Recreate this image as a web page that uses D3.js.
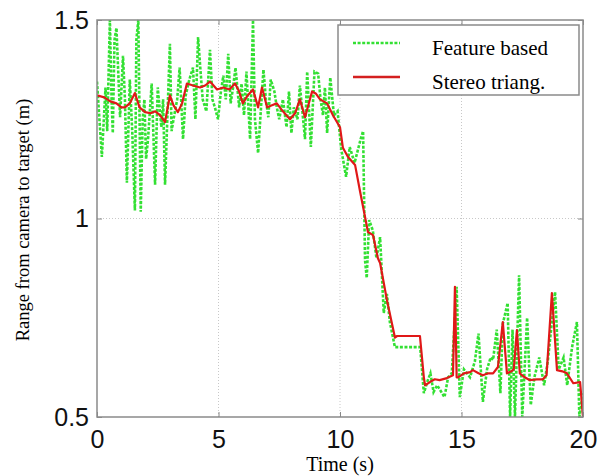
<!DOCTYPE html>
<html><head><meta charset="utf-8">
<script src="https://cdn.jsdelivr.net/npm/d3@7"></script>
<style>body{margin:0;background:#fff}</style>
</head><body>
<svg id="c" width="606" height="476"></svg>
<script>
// ---- data ----
const xTicks = [0, 5, 10, 15, 20];
const yTicks = [0.5, 1, 1.5];
const seriesNames = ["Feature based", "Stereo triang."];

const featureT = [0.0,0.2,0.35,0.42,0.53,0.6,0.65,0.72,0.8,0.95,1.07,1.15,1.23,1.35,1.45,1.56,1.62,1.7,1.8,1.88,1.95,2.02,2.1,2.25,2.39,2.5,2.65,2.72,2.8,3.0,3.07,3.15,3.3,3.4,3.54,3.65,3.8,3.95,4.05,4.16,4.25,4.35,4.5,4.65,4.75,4.85,4.98,5.1,5.2,5.3,5.4,5.5,5.6,5.7,5.85,5.95,6.05,6.15,6.3,6.42,6.5,6.63,6.85,6.95,7.05,7.15,7.3,7.4,7.5,7.65,7.8,7.9,8.0,8.1,8.25,8.35,8.56,8.65,8.8,8.95,9.1,9.2,9.3,9.38,9.47,9.6,9.75,9.9,10.05,10.25,10.4,10.6,10.85,10.95,11.03,11.1,11.2,11.35,11.5,11.65,11.8,11.93,12.05,12.26,13.3,13.45,13.6,13.72,13.85,14.0,14.3,14.45,14.6,14.8,14.93,15.1,15.35,15.55,15.7,15.88,16.05,16.2,16.3,16.45,16.6,16.7,16.9,17.0,17.1,17.2,17.37,17.5,17.7,17.85,18.0,18.2,18.4,18.55,18.85,19.0,19.2,19.35,19.55,19.75,19.85,20.0];
const featureV = [1.345,1.155,1.33,1.22,1.5,1.3,1.215,1.45,1.48,1.255,1.41,1.3,1.09,1.35,1.22,1.02,1.45,1.5,1.017,1.25,1.3,1.15,1.2,1.34,1.085,1.33,1.23,1.3,1.085,1.44,1.22,1.25,1.3,1.38,1.2,1.31,1.35,1.38,1.25,1.457,1.38,1.3,1.27,1.425,1.3,1.28,1.25,1.32,1.36,1.3,1.415,1.29,1.33,1.38,1.28,1.34,1.26,1.37,1.2,1.5,1.25,1.165,1.375,1.3,1.255,1.35,1.32,1.28,1.25,1.3,1.23,1.32,1.215,1.28,1.25,1.335,1.2,1.37,1.18,1.37,1.365,1.3,1.26,1.33,1.215,1.355,1.26,1.27,1.175,1.105,1.18,1.14,1.2,1.22,0.895,0.85,0.996,0.97,0.9,0.953,0.762,0.81,0.74,0.676,0.676,0.56,0.59,0.61,0.563,0.58,0.55,0.6,0.61,0.828,0.55,0.62,0.6,0.64,0.71,0.538,0.62,0.65,0.644,0.72,0.56,0.735,0.787,0.5,0.72,0.5,0.857,0.5,0.75,0.53,0.6,0.65,0.58,0.64,0.815,0.62,0.65,0.58,0.676,0.739,0.5,0.56];

const stereoT = [0.0,0.3,0.55,0.8,1.0,1.15,1.35,1.56,1.75,1.98,2.2,2.4,2.6,2.8,3.0,3.15,3.33,3.5,3.7,3.95,4.24,4.45,4.65,4.94,5.2,5.45,5.68,5.85,6.0,6.2,6.42,6.63,6.79,7.0,7.2,7.4,7.65,7.94,8.15,8.35,8.56,8.85,9.0,9.18,9.47,9.71,10.0,10.12,10.33,10.62,10.82,11.03,11.15,11.36,11.56,11.65,11.93,12.26,12.35,13.29,13.45,13.5,13.7,13.9,14.1,14.4,14.65,14.73,14.8,14.86,15.1,15.35,15.47,15.7,15.88,16.1,16.3,16.5,16.7,16.87,17.05,17.15,17.28,17.4,17.6,17.8,18.1,18.35,18.5,18.72,18.93,19.15,19.34,19.6,19.88,20.0];
const stereoV = [1.31,1.305,1.295,1.29,1.28,1.28,1.29,1.316,1.28,1.268,1.265,1.27,1.26,1.243,1.31,1.285,1.268,1.29,1.34,1.335,1.33,1.335,1.345,1.325,1.33,1.325,1.34,1.32,1.29,1.31,1.325,1.28,1.33,1.28,1.285,1.29,1.27,1.25,1.265,1.3,1.255,1.32,1.315,1.3,1.29,1.26,1.23,1.178,1.155,1.135,1.07,1.004,0.966,0.958,0.9,0.888,0.795,0.7,0.704,0.704,0.6,0.58,0.588,0.595,0.593,0.598,0.605,0.828,0.6,0.6,0.61,0.613,0.618,0.61,0.605,0.61,0.61,0.626,0.739,0.61,0.615,0.62,0.719,0.61,0.6,0.593,0.595,0.595,0.605,0.812,0.618,0.615,0.61,0.585,0.588,0.5];

// ---- layout ----
const L = 97, R = 583, T = 20, B = 417;
const svg = d3.select("#c");
const x = d3.scaleLinear().domain([0, 20]).range([L, R]);
const y = d3.scaleLinear().domain([0.5, 1.5]).range([B, T]);

// grid
const grid = svg.append("g");
grid.selectAll("line.gx").data(xTicks.slice(1, -1)).join("line")
  .attr("x1", d => x(d)).attr("x2", d => x(d)).attr("y1", T).attr("y2", B)
  .attr("stroke", "#c8c8c8").attr("stroke-width", 1).attr("stroke-dasharray", "1,2");
grid.selectAll("line.gy").data(yTicks.slice(1, -1)).join("line")
  .attr("y1", d => y(d)).attr("y2", d => y(d)).attr("x1", L).attr("x2", R)
  .attr("stroke", "#c8c8c8").attr("stroke-width", 1).attr("stroke-dasharray", "1,2");

// clip
svg.append("clipPath").attr("id", "pc").append("rect")
  .attr("x", L).attr("y", T - 1).attr("width", R - L).attr("height", B - T + 2);

const lineGen = (ts, vs) => d3.line().x((d, i) => x(ts[i])).y((d, i) => y(vs[i]))(vs);

const plot = svg.append("g").attr("clip-path", "url(#pc)");
plot.append("path").attr("d", lineGen(featureT, featureV))
  .attr("fill", "none").attr("stroke", "#33e033").attr("stroke-width", 2.6)
  .attr("stroke-dasharray", "3,1.6");
plot.append("path").attr("d", lineGen(stereoT, stereoV))
  .attr("fill", "none").attr("stroke", "#e01818").attr("stroke-width", 2.2)
  .attr("stroke-linejoin", "round");

// axes
const tickStyle = g => {
  g.select(".domain").remove();
  g.selectAll(".tick line").attr("stroke", "#888").attr("stroke-width", 1);
  g.selectAll(".tick text").attr("font-family", "Liberation Sans, Arial, sans-serif")
    .attr("font-size", 25).attr("fill", "#111");
};
svg.append("g").attr("transform", `translate(0,${B})`)
  .call(d3.axisBottom(x).tickValues(xTicks).tickFormat(d3.format("d")).tickSizeInner(-5).tickPadding(13))
  .call(tickStyle);
svg.append("g").attr("transform", `translate(${L},0)`)
  .call(d3.axisLeft(y).tickValues(yTicks).tickFormat(d => d === 1 ? "1" : d3.format(".1f")(d)).tickSizeInner(-5).tickPadding(8))
  .call(tickStyle);
svg.append("g").attr("transform", `translate(0,${T})`)
  .call(d3.axisTop(x).tickValues(xTicks).tickFormat("").tickSizeInner(-5)).call(tickStyle);
svg.append("g").attr("transform", `translate(${R},0)`)
  .call(d3.axisRight(y).tickValues(yTicks).tickFormat("").tickSizeInner(-5)).call(tickStyle);

// box
svg.append("rect").attr("x", L).attr("y", T).attr("width", R - L).attr("height", B - T)
  .attr("fill", "none").attr("stroke", "#8a8a8a").attr("stroke-width", 1.5);

// labels
svg.append("text").attr("x", 340).attr("y", 471).attr("text-anchor", "middle")
  .attr("font-family", "Liberation Serif, Times New Roman, serif").attr("font-size", 20)
  .text("Time (s)");
svg.append("text").attr("transform", "translate(29,220) rotate(-90)").attr("text-anchor", "middle")
  .attr("font-family", "Liberation Serif, Times New Roman, serif").attr("font-size", 18.5)
  .text("Range from camera to target (m)");

// legend
const lg = svg.append("g");
lg.append("rect").attr("x", 338).attr("y", 25).attr("width", 241).attr("height", 70)
  .attr("fill", "#fff").attr("stroke", "#8a8a8a").attr("stroke-width", 1.5);
const items = [
  {name: seriesNames[0], color: "#33e033", dash: "3,1.6", w: 2.6, yy: 43},
  {name: seriesNames[1], color: "#d42020", dash: null, w: 2.6, yy: 77}
];
items.forEach(it => {
  lg.append("line").attr("x1", 353).attr("x2", 400).attr("y1", it.yy).attr("y2", it.yy)
    .attr("stroke", it.color).attr("stroke-width", it.w).attr("stroke-dasharray", it.dash);
  lg.append("text").attr("x", 432).attr("y", it.yy + 12)
    .attr("font-family", "Liberation Serif, Times New Roman, serif").attr("font-size", 21)
    .text(it.name);
});
</script>
</body></html>
